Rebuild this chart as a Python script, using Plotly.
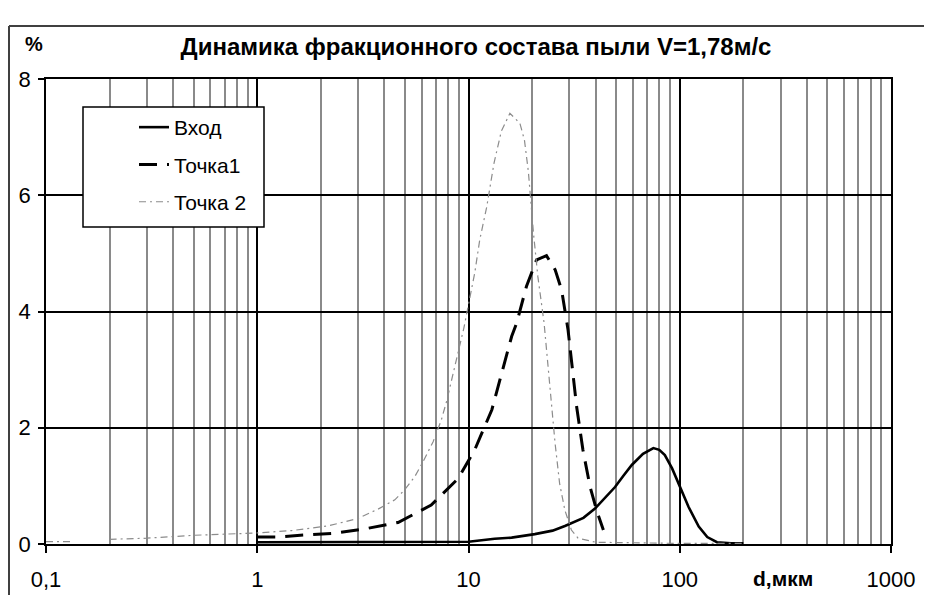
import plotly.graph_objects as go

# ---- data ----
d_vhod = [1, 5, 10, 13.3, 16, 20.6, 25, 28.6, 35, 39.7, 44, 49.4, 54, 59.3, 67, 75, 80, 85, 92, 98.6, 110, 123, 135, 150, 175, 200]
vhod = [0.03, 0.03, 0.04, 0.09, 0.11, 0.17, 0.23, 0.31, 0.45, 0.61, 0.78, 0.98, 1.17, 1.36, 1.55, 1.65, 1.62, 1.53, 1.3, 1.04, 0.64, 0.3, 0.12, 0.03, 0.01, 0.01]

d_t1 = [1, 1.25, 1.6, 2.24, 3.23, 4.64, 6.66, 8.95, 10.7, 12.9, 16, 16.9, 18.8, 21, 23.4, 25.7, 27.6, 29.6, 32.5, 34.8, 37.6, 40.4, 43.5]
t1 = [0.12, 0.12, 0.15, 0.18, 0.26, 0.37, 0.67, 1.13, 1.62, 2.31, 3.57, 3.8, 4.43, 4.89, 4.96, 4.72, 4.37, 3.68, 2.36, 1.62, 0.99, 0.58, 0.24]

d_t2 = [0.1, 0.13, 0.16, 0.2, 0.3, 0.5, 0.7, 1.0, 1.45, 2.16, 3.0, 3.73, 4.48, 4.98, 5.57, 6.1, 6.8, 7.43, 7.87, 9.5, 10.1, 10.7, 11.3, 12.2, 13.2, 14.3, 15.7, 17.5, 18.4, 19.2, 20.3, 21.3, 22.8, 24.7, 25.7, 27, 28.6, 30.7, 33, 40, 60, 100, 200]
t2 = [0.04, 0.04, None, 0.08, 0.1, 0.15, 0.17, 0.19, 0.23, 0.31, 0.44, 0.6, 0.76, 0.93, 1.16, 1.42, 1.76, 2.13, 2.45, 3.71, 4.2, 4.66, 5.23, 5.8, 6.55, 7.1, 7.41, 7.24, 6.95, 6.41, 5.35, 4.6, 3.8, 2.34, 1.73, 1.04, 0.58, 0.24, 0.1, 0.03, 0.02, 0.01, 0.01]

series_names = ["Вход", "Точка1", "Точка 2"]
x_tickvals = [0.1, 1, 10, 100, 1000]
x_ticktext = ["0,1", "1", "10", "100", "1000"]
y_tickvals = [0, 2, 4, 6, 8]

title_text = "Динамика фракционного состава пыли V=1,78м/с"
x_title = "d,мкм"
y_title = "%"

FONT = "Liberation Sans, Arial, sans-serif"

fig = go.Figure()
fig.add_trace(go.Scatter(x=d_vhod, y=vhod, name=series_names[0], mode="lines",
                         line=dict(color="black", width=2.6), legendgroup="a"))
fig.add_trace(go.Scatter(x=d_t1, y=t1, name=series_names[1], mode="lines",
                         line=dict(color="black", width=3, dash="18px,10px"), legendgroup="b"))
fig.add_trace(go.Scatter(x=d_t2, y=t2, name=series_names[2], mode="lines", connectgaps=False,
                         line=dict(color="#8c8c8c", width=1.2, dash="7px,4px,2px,4px"), legendgroup="c"))

OFF = 8  # page body offset
W, H = 932 - OFF, 595 - OFF
# plot area in page pixels: x 46..891, y 79..544
L, T = 46 - OFF, 79 - OFF
pw, ph = 845, 465
R, B = W - L - pw, H - T - ph


def px(xp):  # page pixel -> paper x
    return (xp - OFF - L) / pw


def py(yp):  # page pixel -> paper y
    return (H - B - (yp - OFF)) / ph


fig.update_layout(
    width=W, height=H,
    margin=dict(l=L, r=R, t=T, b=B, autoexpand=False),
    paper_bgcolor="white", plot_bgcolor="white",
    font=dict(family=FONT, size=22, color="black"),
    showlegend=True,
    legend=dict(x=px(134), y=py(107), xanchor="left", yanchor="top",
                bgcolor="rgba(0,0,0,0)", borderwidth=0,
                font=dict(family=FONT, size=21, color="black"),
                traceorder="grouped", tracegroupgap=7, itemwidth=30),
    title=dict(text="<b>" + title_text + "</b>", x=(476 - OFF) / W, xanchor="center",
               y=1 - (47 - OFF) / H, yanchor="middle",
               font=dict(family=FONT, size=24, color="black")),
    xaxis=dict(type="log", range=[-1, 3], tickmode="array", tickvals=x_tickvals, ticktext=x_ticktext,
               showgrid=True, gridcolor="black", gridwidth=1.5,
               minor=dict(dtick="D1", showgrid=True, gridcolor="#8a8a8a", gridwidth=1.5, ticks=""),
               showline=True, linecolor="black", linewidth=1.5, mirror=True,
               ticks="outside", ticklen=7, tickcolor="black", tickwidth=1.5,
               ticklabelstandoff=8, zeroline=False,
               tickfont=dict(family=FONT, size=22, color="black")),
    yaxis=dict(range=[0, 8], tickmode="array", tickvals=y_tickvals,
               showgrid=True, gridcolor="black", gridwidth=1.5,
               showline=True, linecolor="black", linewidth=1.5, mirror=True,
               ticks="outside", ticklen=6, tickcolor="black", tickwidth=1.5,
               zeroline=False, ticklabelstandoff=3,
               tickfont=dict(family=FONT, size=22, color="black")),
    shapes=[
        # legend frame
        dict(type="rect", xref="paper", yref="paper", x0=px(83), x1=px(264), y0=py(227), y1=py(107),
             line=dict(color="black", width=1.5), fillcolor="white", layer="above"),
        # outer chart frame (left & top)
        dict(type="line", xref="paper", yref="paper", x0=px(9), x1=px(9), y0=py(600), y1=py(26),
             line=dict(color="#404040", width=2)),
        dict(type="line", xref="paper", yref="paper", x0=px(9), x1=px(940), y0=py(26), y1=py(26),
             line=dict(color="#404040", width=2)),
    ],
    annotations=[
        dict(text="<b>" + y_title + "</b>", xref="paper", yref="paper", x=px(34), y=py(44),
             xanchor="center", yanchor="middle", showarrow=False,
             font=dict(family=FONT, size=20, color="black")),
        dict(text="<b>" + x_title + "</b>", xref="paper", yref="paper", x=px(783), y=py(578),
             xanchor="center", yanchor="middle", showarrow=False,
             font=dict(family=FONT, size=21, color="black")),
    ],
)

fig.write_html("out.html")
